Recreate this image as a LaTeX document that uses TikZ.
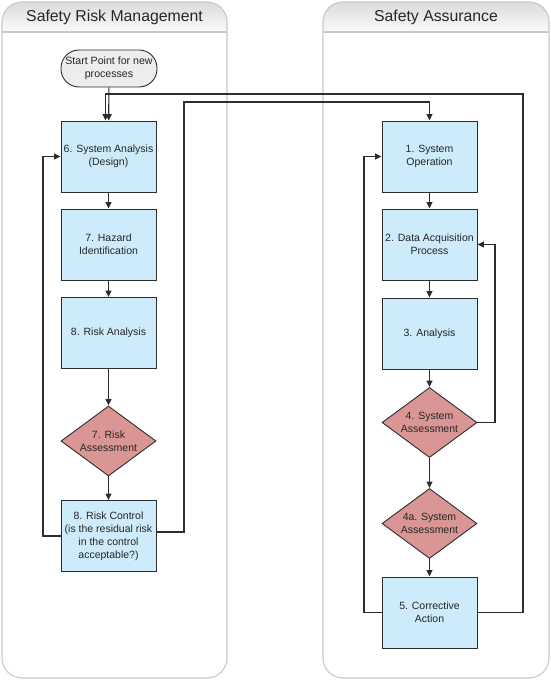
\documentclass[tikz,border=0pt]{standalone}
\usepackage{fontspec}
\setmainfont{Liberation Sans}
\usetikzlibrary{shapes.geometric,arrows.meta,calc}
\definecolor{boxblue}{RGB}{205,235,250}
\definecolor{diared}{RGB}{217,150,148}
\definecolor{lanegray}{RGB}{200,200,200}
\definecolor{linecol}{RGB}{45,45,45}
\begin{document}
\begin{tikzpicture}[x=1pt,y=-1pt,
  lane/.style={draw=lanegray,line width=1.1pt,rounded corners=20pt},
  lanetitle/.style={font=\fontsize{15.8}{18}\selectfont,text=black!85},
  stepbox/.style={rectangle,draw=linecol,line width=0.9pt,fill=boxblue,minimum width=95pt,minimum height=71pt,align=center,inner sep=2pt,font=\fontsize{10.5}{13}\selectfont,text=black!85},
  decbox/.style={diamond,draw=linecol,line width=0.9pt,fill=diared,minimum width=95pt,minimum height=70pt,inner sep=0pt,aspect=1.36,align=center,font=\fontsize{10.5}{13}\selectfont,text=black!85},
  startbox/.style={rectangle,rounded corners=18pt,draw=linecol,line width=0.9pt,fill=black!7,minimum width=96pt,minimum height=37pt,align=center,inner sep=1pt,font=\fontsize{10.6}{13}\selectfont,text=black!85},
  arr/.style={draw=linecol,line width=1.1pt,-{Triangle[length=6.5pt,width=6pt]}},
  ln/.style={draw=linecol,line width=1.1pt}]
\useasboundingbox (0,0) rectangle (550,680);
% lanes
\begin{scope}
  \clip[rounded corners=20pt] (2,2) rectangle (227,678);
  \shade[top color=black!14,bottom color=black!2] (2,2) rectangle (227,32);
\end{scope}
\begin{scope}
  \clip[rounded corners=20pt] (323,2) rectangle (549,678);
  \shade[top color=black!14,bottom color=black!2] (323,2) rectangle (549,32);
\end{scope}
\draw[lane] (2,2) rectangle (227,678);
\draw[lane] (323,2) rectangle (549,678);
\draw[draw=lanegray,line width=1.1pt] (2,32) -- (227,32);
\draw[draw=lanegray,line width=1.1pt] (323,32) -- (549,32);
\node[lanetitle] (t1) at (114.5,17) {Safety Risk Management};
\node[lanetitle] (t2) at (436,17) {Safety Assurance};
% left column
\node[startbox] (start) at (109,68.5) {Start Point for new\\processes};
\node[stepbox] (b6) at (108.5,156.5) {6. System Analysis\\(Design)};
\node[stepbox] (b7) at (108.5,244.5) {7. Hazard\\Identification};
\node[stepbox] (b8) at (108.5,333) {8. Risk Analysis};
\node[decbox] (d7) at (108.5,441) {7. Risk\\Assessment};
\node[stepbox] (rc) at (108.5,536) {8. Risk Control\\(is the residual risk\\in the control\\acceptable?)};
% right column
\node[stepbox] (b1) at (429.5,156.5) {1. System\\Operation};
\node[stepbox] (b2) at (429.5,244.5) {2. Data Acquisition\\Process};
\node[stepbox] (b3) at (429.5,333.5) {3. Analysis};
\node[decbox] (d4) at (429.5,422.5) {4. System\\Assessment};
\node[decbox] (d4a) at (429.5,523.5) {4a. System\\Assessment};
\node[stepbox] (b5) at (429.5,612.5) {5. Corrective\\Action};
% connector corners
\coordinate (c1) at (523,94);
\coordinate (c2) at (184,102);
\coordinate (c3) at (43,156.5);
\coordinate (c4) at (495,244.5);
\coordinate (c5) at (364,156.5);
% straight arrows
\draw[arr] (start) -- (b6);
\draw[arr] (b6) -- (b7);
\draw[arr] (b7) -- (b8);
\draw[arr] (b8) -- (d7);
\draw[arr] (d7) -- (rc);
\draw[arr] (b1) -- (b2);
\draw[arr] (b2) -- (b3);
\draw[arr] (b3) -- (d4);
\draw[arr] (d4) -- (d4a);
\draw[arr] (d4a) -- (b5);
% loops
\draw[arr] (b5.east) -| (c1) -| ($(b6.north)+(-3,0)$);
\draw[arr] ($(rc.east)+(0,-4)$) -| (c2) -| (b1.north);
\draw[arr] (rc.west) -| (c3) -- (b6.west);
\draw[arr] (d4.east) -| (c4) -- (b2.east);
\draw[arr] (b5.west) -| (c5) -- (b1.west);
\end{tikzpicture}
\end{document}
